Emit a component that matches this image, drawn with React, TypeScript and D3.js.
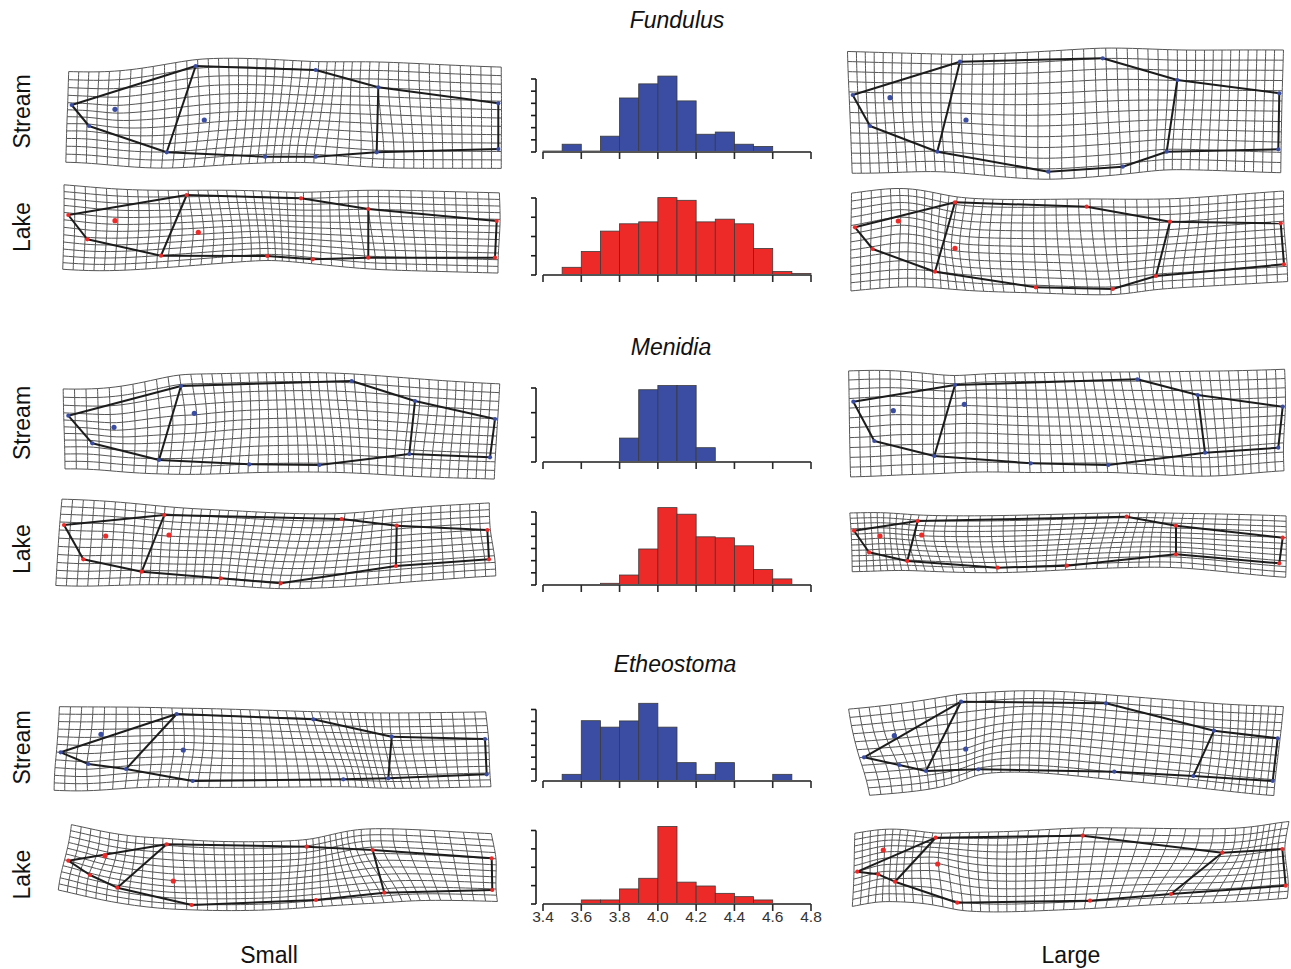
import React from 'react';
import * as d3 from 'd3';

// histogram bins (left edges) and axis ticks
const BIN_STARTS = [3.4, 3.5, 3.6, 3.7, 3.8, 3.9, 4.0, 4.1, 4.2, 4.3, 4.4, 4.5, 4.6, 4.7];
const X_TICKS = [3.4, 3.6, 3.8, 4.0, 4.2, 4.4, 4.6, 4.8];
const X_TICK_LABELS = ['3.4', '3.6', '3.8', '4.0', '4.2', '4.4', '4.6', '4.8'];

// relative frequencies per bin
const fundulusStreamHist = [0.4, 3.2, 0.4, 6.5, 22.2, 28, 31.2, 21, 7.3, 8.2, 3.2, 2.3, 0, 0];
const fundulusLakeHist = [0, 2, 6.1, 11.4, 13.3, 13.8, 20.1, 19.4, 13.8, 14.5, 13.3, 6.9, 0.9, 0.4];
const menidiaStreamHist = [0, 0, 0, 0, 9.7, 29.3, 31, 31, 5.8, 0, 0, 0, 0, 0];
const menidiaLakeHist = [0, 0, 0, 0.7, 4.1, 14.8, 31.8, 29.1, 19.8, 19.4, 16.1, 6.4, 2.5, 0];
const etheostomaStreamHist = [0, 2.8, 25.3, 22.6, 25.2, 32.6, 22.6, 7.7, 2.8, 7.7, 0, 0, 2.8, 0];
const etheostomaLakeHist = [0, 0, 2.2, 2.2, 8.2, 14, 42.2, 11.9, 9.8, 5.8, 4, 2.2, 0, 0];

// y-axis top tick and step per histogram
const histYTop = [30, 20, 30, 30, 30, 40];
const histYStep = [5, 5, 10, 5, 5, 10];

// landmarks (13 per fish): snout, jaw, dorsal origin, dorsal end, caudal dorsal,
// tail top, tail bottom, caudal ventral, anal end, anal start, pelvic, eye, pectoral
type Pt = [number, number];
const fundulusSmallStream: Pt[] = [[21.7, 50], [39, 71], [145.7, 11], [265.7, 15], [328.3, 32.3], [448.3, 48.3], [448.3, 94], [326.7, 97.3], [265.7, 101.7], [215, 101.7], [116.7, 97.3], [65, 54.3], [154.3, 65]];
const fundulusLargeStream: Pt[] = [[7.7, 40], [25, 71], [115, 6.7], [257.7, 3.3], [332.3, 25], [434.3, 38.3], [433.3, 94.3], [321.7, 96.7], [277.7, 111.7], [203.3, 116.7], [92.3, 96.7], [45, 42.7], [121, 65]];
const fundulusSmallLake: Pt[] = [[18.3, 30], [37.3, 54.3], [136.7, 10], [251, 13.3], [318.3, 24], [446.7, 36], [445, 72.7], [318.3, 72.7], [262.7, 74.3], [217.3, 71], [111, 70.7], [65, 35.7], [148.3, 47.3]];
const fundulusLargeLake: Pt[] = [[10, 42.3], [27.7, 64], [110, 17.3], [241.7, 21.7], [325, 36.7], [435.7, 38.3], [439, 79.3], [311, 91], [267.7, 104], [190.7, 102.3], [90, 86.7], [53.3, 36], [110, 63.3]];
const menidiaSmallStream: Pt[] = [[18.3, 45.7], [42.3, 73.3], [131, 16], [301.7, 11], [365, 31], [445, 49], [440, 87.3], [359.3, 84], [269.3, 95], [199.3, 94.3], [109, 90], [64, 57.3], [144.3, 43.3]];
const menidiaLargeStream: Pt[] = [[8.3, 31.7], [29.3, 71], [110, 15], [292.3, 9.3], [352.7, 25], [437.7, 36.7], [433.3, 77.7], [360, 82.7], [263.3, 95], [185.7, 93.3], [89.3, 86], [48.3, 40.7], [119.3, 34.3]];
const menidiaSmallLake: Pt[] = [[14, 20], [33.3, 54.3], [114.3, 10], [291.7, 14], [346.7, 20.7], [437.3, 25], [439, 54.3], [346, 61], [230.7, 78.3], [170.7, 73.3], [91.7, 66.7], [55.7, 31], [119, 30]];
const menidiaLargeLake: Pt[] = [[9, 25.7], [24, 47.3], [72.7, 16], [281.7, 11.7], [331, 20.7], [437.7, 32.7], [434.3, 58.3], [331, 49.3], [221.7, 60.7], [152.7, 62.7], [62.3, 56], [35, 31], [76.7, 30]];
const etheostomaSmallStream: Pt[] = [[10.7, 57.3], [38.3, 69], [126.7, 19], [263.3, 24.3], [341.7, 41.7], [435, 44], [436.7, 79.3], [338.3, 83.3], [293.3, 84.3], [142.7, 86], [76, 74], [51, 39.3], [133.3, 55]];
const etheostomaLargeStream: Pt[] = [[19, 62.3], [54.3, 70], [116, 6.7], [261, 8.3], [369, 35.7], [432.7, 43.3], [427.7, 86], [348.3, 81], [269.3, 76.7], [133.3, 74.3], [81, 76], [49.3, 40.7], [120.7, 54]];
const etheostomaSmallLake: Pt[] = [[18.3, 35.7], [40, 50], [116.7, 19.3], [256.7, 21.7], [322.7, 25], [441.7, 33.3], [442.3, 65], [334.3, 67.7], [266, 75], [141.7, 80], [67.3, 62.7], [55, 30.7], [123.3, 56]];
const etheostomaLargeLake: Pt[] = [[12.3, 46.7], [33.3, 49.3], [90.7, 12.7], [237.7, 10.7], [377.3, 27.7], [437.3, 24], [440.7, 60.7], [326, 69], [245, 75.7], [112.3, 77.7], [50, 56.7], [38.3, 25], [92.7, 39]];

const species = ['Fundulus', 'Menidia', 'Etheostoma'];
const habitats = ['Stream', 'Lake'];

const W = 1291;
const H = 969;
const FONT = '"Liberation Sans", Arial, sans-serif';
const BLUE = '#3a4da3';
const RED = '#ee2a28';

// layout
const SMALL_X = 50;
const LARGE_X = 845;
const ROW_Y = [55, 185, 370, 505, 695, 825];
const HIST_BASE = [152, 275, 462, 585, 781, 904];
const HIST_H = [73, 77, 74, 73, 71.5, 73.5];
const TITLE_Y = [28, 355, 672];
const TITLE_X = [677, 671, 675];
const GRID_NX = 44;
const GRID_NY = [12, 11, 11];

const EDGES: [number, number][] = [[0, 2], [2, 3], [3, 4], [4, 5], [5, 6], [6, 7], [7, 8], [8, 9], [9, 10], [10, 1], [1, 0], [2, 10], [4, 7]];

function solve(A: number[][], b: number[]): number[] {
  const n = b.length;
  const M = A.map((row, i) => [...row, b[i]]);
  for (let c = 0; c < n; c++) {
    let p = c;
    for (let r = c + 1; r < n; r++) if (Math.abs(M[r][c]) > Math.abs(M[p][c])) p = r;
    [M[c], M[p]] = [M[p], M[c]];
    for (let r = c + 1; r < n; r++) {
      const f = M[r][c] / M[c][c];
      for (let k = c; k <= n; k++) M[r][k] -= f * M[c][k];
    }
  }
  const x = new Array(n).fill(0);
  for (let r = n - 1; r >= 0; r--) {
    let s = M[r][n];
    for (let k = r + 1; k < n; k++) s -= M[r][k] * x[k];
    x[r] = s / M[r][r];
  }
  return x;
}

const U = (r2: number) => (r2 === 0 ? 0 : r2 * Math.log(r2));

// thin-plate spline from consensus shape to one fish
function makeTps(src: Pt[], dst: Pt[]) {
  const n = src.length;
  const s = src.map(([x, y]) => [x / 100, y / 100]);
  const N = n + 3;
  const L = Array.from({ length: N }, () => new Array(N).fill(0));
  for (let i = 0; i < n; i++) {
    for (let j = 0; j < n; j++) {
      const dx = s[i][0] - s[j][0], dy = s[i][1] - s[j][1];
      L[i][j] = U(dx * dx + dy * dy);
    }
    L[i][n] = 1; L[i][n + 1] = s[i][0]; L[i][n + 2] = s[i][1];
    L[n][i] = 1; L[n + 1][i] = s[i][0]; L[n + 2][i] = s[i][1];
  }
  const wx = solve(L, [...dst.map(d => d[0]), 0, 0, 0]);
  const wy = solve(L, [...dst.map(d => d[1]), 0, 0, 0]);
  return (x: number, y: number): Pt => {
    const px = x / 100, py = y / 100;
    let fx = wx[n] + wx[n + 1] * px + wx[n + 2] * py;
    let fy = wy[n] + wy[n + 1] * px + wy[n + 2] * py;
    for (let i = 0; i < n; i++) {
      const dx = px - s[i][0], dy = py - s[i][1];
      const u = U(dx * dx + dy * dy);
      fx += wx[i] * u;
      fy += wy[i] * u;
    }
    return [fx, fy];
  };
}

function centered(pts: Pt[]): Pt[] {
  const cx = d3.mean(pts, p => p[0]) as number;
  const cy = d3.mean(pts, p => p[1]) as number;
  return pts.map(p => [p[0] - cx, p[1] - cy]);
}

function consensus(sets: Pt[][]): Pt[] {
  const c = sets.map(centered);
  return c[0].map((_, i) => [d3.mean(c, s => s[i][0]) as number, d3.mean(c, s => s[i][1]) as number]);
}

const line = d3.line<Pt>().curve(d3.curveLinear);

function Grid({ shape, ref0, ox, oy, color, ny }: { shape: Pt[]; ref0: Pt[]; ox: number; oy: number; color: string; ny: number }) {
  const tps = makeTps(ref0, shape);
  const x0 = (d3.min(ref0, p => p[0]) as number) - 4;
  const x1 = (d3.max(ref0, p => p[0]) as number) + 3;
  const y0 = (d3.min(ref0, p => p[1]) as number) - 6;
  const y1 = (d3.max(ref0, p => p[1]) as number) + 6;
  const gx = d3.scaleLinear().domain([0, GRID_NX]).range([x0, x1]);
  const gy = d3.scaleLinear().domain([0, ny]).range([y0, y1]);
  const px = d3.scaleLinear().domain([0, 1]).range([ox, ox + 1]);
  const py = d3.scaleLinear().domain([0, 1]).range([oy, oy + 1]);
  const map = (x: number, y: number): Pt => {
    const [a, b] = tps(x, y);
    return [px(a), py(b)];
  };
  const paths: string[] = [];
  for (let i = 0; i <= GRID_NX; i++) {
    const pts: Pt[] = d3.range(0, ny * 3 + 1).map(k => map(gx(i), gy(k / 3)));
    paths.push(line(pts) as string);
  }
  for (let j = 0; j <= ny; j++) {
    const pts: Pt[] = d3.range(0, GRID_NX * 2 + 1).map(k => map(gx(k / 2), gy(j)));
    paths.push(line(pts) as string);
  }
  const lm = shape.map(p => [px(p[0]), py(p[1])] as Pt);
  return (
    <g>
      {paths.map((d, i) => (
        <path key={i} d={d} fill="none" stroke="#555" strokeWidth={1} />
      ))}
      {EDGES.map(([a, b], i) => (
        <line key={'e' + i} x1={lm[a][0]} y1={lm[a][1]} x2={lm[b][0]} y2={lm[b][1]} stroke="#1c1c1c" strokeWidth={2} />
      ))}
      {lm.map((p, i) => (
        <circle key={'c' + i} cx={p[0]} cy={p[1]} r={i >= 11 ? 2.6 : 2.1} fill={color} />
      ))}
    </g>
  );
}

function Histogram({ values, idx, color, labels }: { values: number[]; idx: number; color: string; labels: boolean }) {
  const base = HIST_BASE[idx];
  const xs = d3.scaleLinear().domain([3.4, 4.8]).range([543, 811]);
  const ys = d3.scaleLinear().domain([0, histYTop[idx]]).range([base, base - HIST_H[idx]]);
  const yTicks = d3.range(0, histYTop[idx] + 0.001, histYStep[idx]);
  const axisX = 536;
  return (
    <g>
      {BIN_STARTS.map((b, i) =>
        values[i] > 0 ? (
          <rect key={i} x={xs(b)} y={ys(values[i])} width={xs(b + 0.1) - xs(b)} height={base - ys(values[i])}
            fill={color} stroke="#3a3a3a" strokeWidth={0.8} />
        ) : null
      )}
      <line x1={xs(3.4)} x2={xs(4.8)} y1={base} y2={base} stroke="#555" strokeWidth={2.2} />
      {X_TICKS.map((t, i) => (
        <line key={'xt' + i} x1={xs(t)} x2={xs(t)} y1={base} y2={base + 7} stroke="#2a2a2a" strokeWidth={1.6} />
      ))}
      {labels && X_TICKS.map((t, i) => (
        <text key={'xl' + i} x={xs(t)} y={base + 18} textAnchor="middle" fontFamily={FONT} fontSize={15.5} fill="#333">
          {X_TICK_LABELS[i]}
        </text>
      ))}
      <line x1={axisX} x2={axisX} y1={ys(0)} y2={ys(histYTop[idx])} stroke="#1a1a1a" strokeWidth={1.6} />
      {yTicks.map((t, i) => (
        <line key={'yt' + i} x1={axisX - 5} x2={axisX} y1={ys(t)} y2={ys(t)} stroke="#1a1a1a" strokeWidth={1.6} />
      ))}
    </g>
  );
}

const App = () => {
  const groups = [
    { small: [fundulusSmallStream, fundulusSmallLake], large: [fundulusLargeStream, fundulusLargeLake], hist: [fundulusStreamHist, fundulusLakeHist] },
    { small: [menidiaSmallStream, menidiaSmallLake], large: [menidiaLargeStream, menidiaLargeLake], hist: [menidiaStreamHist, menidiaLakeHist] },
    { small: [etheostomaSmallStream, etheostomaSmallLake], large: [etheostomaLargeStream, etheostomaLargeLake], hist: [etheostomaStreamHist, etheostomaLakeHist] },
  ];
  return (
    <svg width={W} height={H} style={{ position: 'absolute', left: 0, top: 0, background: '#fff' }}>
      {groups.map((g, s) => {
        const ref0 = consensus([...g.small, ...g.large]);
        return (
          <g key={s}>
            <text x={TITLE_X[s]} y={TITLE_Y[s]} textAnchor="middle" fontFamily={FONT} fontStyle="italic" fontSize={23} fill="#111">
              {species[s]}
            </text>
            {habitats.map((h, k) => {
              const row = s * 2 + k;
              const color = k === 0 ? BLUE : RED;
              const smallC = centered(g.small[k]);
              const largeC = centered(g.large[k]);
              const cs = d3.mean(g.small[k], p => p[0]) as number;
              const cys = d3.mean(g.small[k], p => p[1]) as number;
              const cl = d3.mean(g.large[k], p => p[0]) as number;
              const cyl = d3.mean(g.large[k], p => p[1]) as number;
              const labelY = (d3.min(g.small[k], p => p[1]) as number + (d3.max(g.small[k], p => p[1]) as number)) / 2 + ROW_Y[row];
              return (
                <g key={h}>
                  <text transform={`translate(30,${labelY}) rotate(-90)`} textAnchor="middle" fontFamily={FONT} fontSize={23} fill="#111">
                    {h}
                  </text>
                  <Grid shape={smallC} ref0={ref0} ox={SMALL_X + cs} oy={ROW_Y[row] + cys} color={color} ny={GRID_NY[s]} />
                  <Grid shape={largeC} ref0={ref0} ox={LARGE_X + cl} oy={ROW_Y[row] + cyl} color={color} ny={GRID_NY[s]} />
                  <Histogram values={g.hist[k]} idx={row} color={color} labels={row === 5} />
                </g>
              );
            })}
          </g>
        );
      })}
      <text x={269} y={963} textAnchor="middle" fontFamily={FONT} fontSize={23} fill="#111">Small</text>
      <text x={1071} y={963} textAnchor="middle" fontFamily={FONT} fontSize={23} fill="#111">Large</text>
    </svg>
  );
};

export default App;
